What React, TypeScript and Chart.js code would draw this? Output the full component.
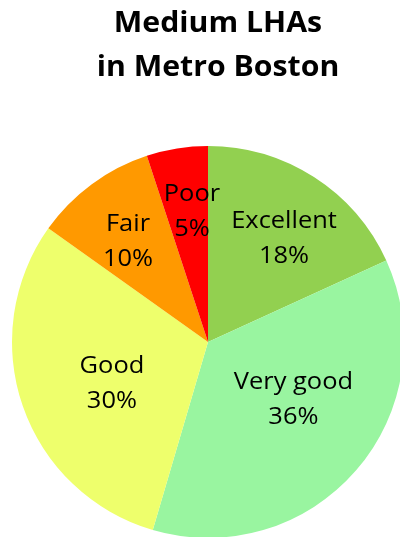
import React, { useEffect, useRef } from "react";
import { Chart, registerables } from "chart.js";

Chart.register(...registerables);

const categories = ["Excellent", "Very good", "Good", "Fair", "Poor"];
const values = [18, 36, 30, 10, 5];
const pctLabels = ["18%", "36%", "30%", "10%", "5%"];
const colors = ["#92D050", "#99F5A0", "#EEFF6C", "#FF9900", "#FF0000"];
const titleLines = ["Medium LHAs", "in Metro Boston"];

// label placement inside each slice: [fraction of radius, fraction of slice angle]
const labelRadius = [0.66, 0.52, 0.53, 0.66, 0.68];
const labelAngleFrac = [0.55, 0.44, 0.47, 0.45, 0.62];

const labelPlugin = {
  id: "customLabels",
  afterDatasetsDraw(chart: any) {
    const ctx = chart.ctx as CanvasRenderingContext2D;
    const meta = chart.getDatasetMeta(0);
    ctx.save();
    ctx.fillStyle = "#000";
    ctx.textAlign = "center";
    ctx.textBaseline = "alphabetic";
    ctx.font = "24px 'Open Sans'";
    meta.data.forEach((arc: any, i: number) => {
      const p = arc.getProps(["x", "y", "startAngle", "endAngle", "outerRadius"], true);
      const a = p.startAngle + (p.endAngle - p.startAngle) * labelAngleFrac[i];
      const r = p.outerRadius * labelRadius[i];
      const cx = p.x + Math.cos(a) * r;
      const cy = p.y + Math.sin(a) * r;
      ctx.save();
      ctx.translate(cx, cy);
      ctx.scale(1.06, 1);
      ctx.fillText(categories[i], 0, -9);
      ctx.fillText(pctLabels[i], 0, 26);
      ctx.restore();
    });
    // title
    ctx.font = "bold 28px 'Open Sans'";
    const baselines = [32, 76];
    titleLines.forEach((t, i) => {
      ctx.save();
      ctx.translate(218, baselines[i]);
      ctx.scale(1.08, 1);
      ctx.fillText(t, 0, 0);
      ctx.restore();
    });
    ctx.restore();
  },
};

export default function App() {
  const ref = useRef<HTMLCanvasElement | null>(null);
  useEffect(() => {
    if (!ref.current) return;
    const chart = new Chart(ref.current, {
      type: "pie",
      data: {
        labels: categories,
        datasets: [
          {
            data: values,
            backgroundColor: colors,
            borderWidth: 0,
          },
        ],
      },
      options: {
        animation: false,
        responsive: false,
        layout: { padding: { left: 12, right: 16, top: 146, bottom: 22 } },
        plugins: {
          legend: { display: false },
          title: { display: false },
          tooltip: { enabled: false },
        },
      },
      plugins: [labelPlugin],
    });
    return () => chart.destroy();
  }, []);
  return (
    <div
      style={{
        position: "fixed",
        left: 0,
        top: 0,
        width: 400,
        height: 537,
        overflow: "hidden",
        background: "#fff",
      }}
    >
      <canvas ref={ref} width={420} height={560} style={{ width: 420, height: 560, display: "block" }} />
    </div>
  );
}
